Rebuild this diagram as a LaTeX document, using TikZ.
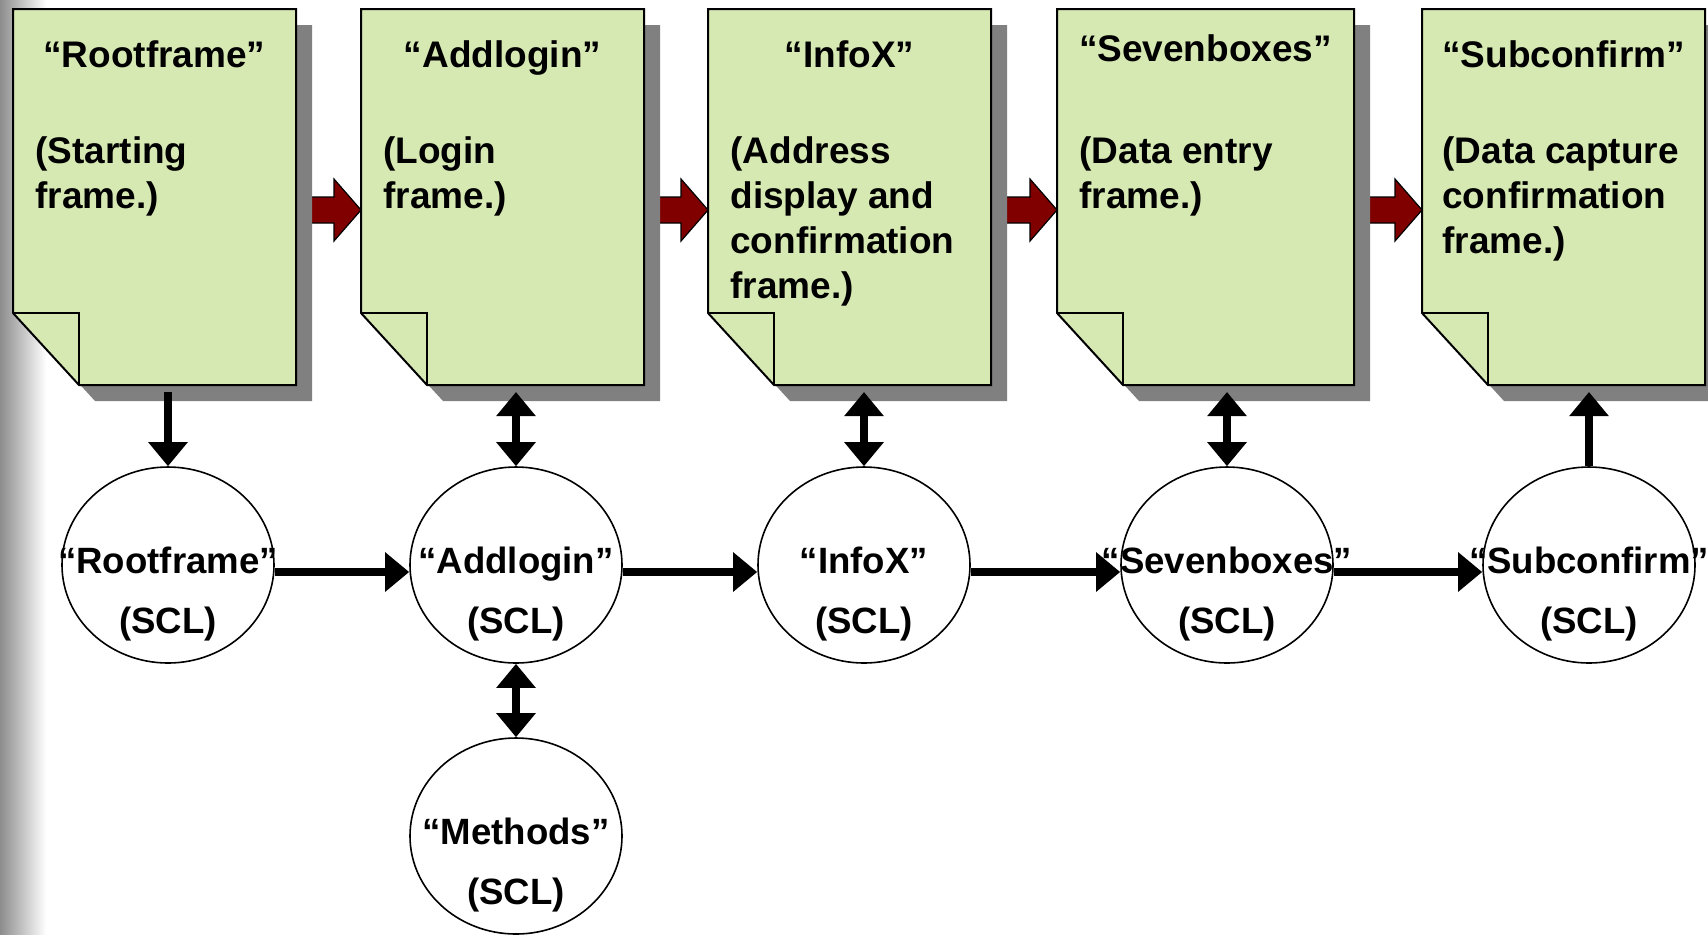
\documentclass[tikz,border=0pt]{standalone}
\usepackage{fontspec}
\setmainfont{Liberation Sans}
\usetikzlibrary{arrows.meta,calc,shapes.geometric}
\definecolor{boxgreen}{HTML}{D7E9B2}
\definecolor{shadowgray}{HTML}{808080}
\definecolor{darkmaroon}{HTML}{800000}
\definecolor{edgegray}{HTML}{8C8C8C}
\tikzset{
 docnode/.style={inner sep=0, outer sep=0, minimum height=188pt, anchor=north west},
 docline/.style={draw=black, line width=1pt, fill=boxgreen, line join=miter},
 foldline/.style={draw=black, line width=1pt},
 shadowfill/.style={fill=shadowgray},
 redarr/.style={draw=black, line width=0.6pt, fill=darkmaroon, line join=miter},
 scl/.style={ellipse, draw=black, line width=0.8pt, fill=white, minimum width=106pt, minimum height=98pt, inner sep=0},
 blk/.style={line width=4pt, -{Triangle[length=12pt,width=19pt]}},
 blkboth/.style={line width=4pt, {Triangle[length=12pt,width=19pt]}-{Triangle[length=12pt,width=19pt]}},
 boxtitle/.style={font=\fontsize{18.5}{22.5}\selectfont\bfseries, inner sep=0, anchor=base},
 boxbody/.style={font=\fontsize{18.5}{22.5}\selectfont\bfseries, inner sep=0, anchor=base west, align=left},
 scltext/.style={font=\fontsize{18.3}{30}\selectfont\bfseries, inner sep=0, anchor=base, align=center},
}
\newcommand\docshape[1]{%
 \fill[shadowfill] ($(#1.north east)+(16,16)$) -- ($(#1.south east)+(16,16)$) -- ($(#1.south west)+(82,16)$) -- ($(#1.south west)+(16,-56)$) -- ($(#1.north west)+(16,16)$) -- cycle;
 \draw[docline] (#1.north west) -- (#1.north east) -- (#1.south east) -- ($(#1.south west)+(66,0)$) -- ($(#1.south west)+(0,-72)$) -- cycle;
 \draw[foldline] ($(#1.south west)+(0,-72)$) -- ($(#1.south west)+(66,-72)$) -- ($(#1.south west)+(66,0)$);
}
\newcommand\redarrow[2]{%
 \coordinate (s) at ($(#1.east)+(0,13)$);
 \coordinate (t) at ($(#2.west)+(0,13)$);
 \draw[redarr] ($(s)+(0,-13)$) -- ($(t)+(-27,-13)$) -- ($(t)+(-27,-31)$) -- (t) -- ($(t)+(-27,31)$) -- ($(t)+(-27,13)$) -- ($(s)+(0,13)$) -- cycle;
}
\begin{document}
\begin{tikzpicture}[x=0.5pt,y=-0.5pt]
\useasboundingbox (0,0) rectangle (1708,934);
\clip (0,0) rectangle (1708,934);
\fill[white] (0,0) rectangle (1708,934);
\shade[left color=edgegray, right color=white] (0,0) rectangle (46,934);
% frame boxes (anchors)
\node[docnode, minimum width=141.5pt] (b1) at (13,9) {};
\node[docnode, minimum width=141.5pt] (b2) at (361,9) {};
\node[docnode, minimum width=141.5pt] (b3) at (708,9) {};
\node[docnode, minimum width=148.5pt] (b4) at (1057,9) {};
\node[docnode, minimum width=141.5pt] (b5) at (1422,9) {};
% red flow arrows
\redarrow{b1}{b2}
\redarrow{b2}{b3}
\redarrow{b3}{b4}
\redarrow{b4}{b5}
% document shapes
\docshape{b1}
\docshape{b2}
\docshape{b3}
\docshape{b4}
\docshape{b5}
% box texts (base anchor = baseline of last line)
\node[boxtitle] (t1) at ($(b1.north)+(0,58)$) {“Rootframe”};
\node[boxtitle] (t2) at ($(b2.north)+(0,58)$) {“Addlogin”};
\node[boxtitle] (t3) at ($(b3.north)+(0,58)$) {“InfoX”};
\node[boxtitle] (t4) at ($(b4.north)+(0,52)$) {“Sevenboxes”};
\node[boxtitle] (t5) at ($(b5.north)+(0,58)$) {“Subconfirm”};
\node[boxbody] (d1) at ($(b1.north west)+(22,199)$) {(Starting\\frame.)};
\node[boxbody] (d2) at ($(b2.north west)+(22,199)$) {(Login\\frame.)};
\node[boxbody] (d3) at ($(b3.north west)+(22,289)$) {(Address\\display and\\confirmation\\frame.)};
\node[boxbody] (d4) at ($(b4.north west)+(22,199)$) {(Data entry\\frame.)};
\node[boxbody] (d5) at ($(b5.north west)+(20,244)$) {(Data capture\\confirmation\\frame.)};
% SCL ellipses
\node[scl] (c1) at (168,565) {};
\node[scl] (c2) at (516,565) {};
\node[scl] (c3) at (864,565) {};
\node[scl] (c4) at (1227,565) {};
\node[scl] (c5) at (1589,565) {};
\node[scl] (c6) at (516,836) {};
\node[scltext] (l1) at ($(c1)+(0,68)$) {“Rootframe”\\(SCL)};
\node[scltext] (l2) at ($(c2)+(0,68)$) {“Addlogin”\\(SCL)};
\node[scltext] (l3) at ($(c3)+(0,68)$) {“InfoX”\\(SCL)};
\node[scltext] (l4) at ($(c4)+(0,68)$) {“Sevenboxes”\\(SCL)};
\node[scltext] (l5) at ($(c5)+(0,68)$) {“Subconfirm”\\(SCL)};
\node[scltext] (l6) at ($(c6)+(0,68)$) {“Methods”\\(SCL)};
% vertical connectors
\draw[blk] ($(c1.north|-b1.south)+(0,7)$) -- (c1.north);
\draw[blkboth] ($(c2.north|-b2.south)+(0,7)$) -- (c2.north);
\draw[blkboth] ($(c3.north|-b3.south)+(0,7)$) -- (c3.north);
\draw[blkboth] ($(c4.north|-b4.south)+(0,7)$) -- (c4.north);
\draw[blk] (c5.north) -- ($(c5.north|-b5.south)+(0,7)$);
\draw[blkboth] (c2.south) -- (c6.north);
% horizontal connectors
\draw[blk] ($(c1.east)+(0,7)$) -- ($(c2.west)+(0,7)$);
\draw[blk] ($(c2.east)+(0,7)$) -- ($(c3.west)+(0,7)$);
\draw[blk] ($(c3.east)+(0,7)$) -- ($(c4.west)+(0,7)$);
\draw[blk] ($(c4.east)+(0,7)$) -- ($(c5.west)+(0,7)$);
\end{tikzpicture}
\end{document}
